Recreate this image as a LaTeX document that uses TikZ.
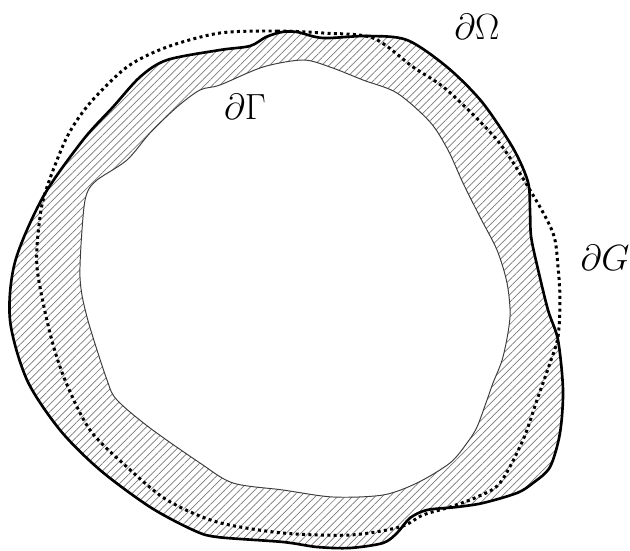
\documentclass[tikz,border=0pt]{standalone}
\usepackage{tikz}
\usepackage{xcolor}
\usetikzlibrary{patterns.meta}
\definecolor{hatchgray}{HTML}{7A7A7A}
\definecolor{linedark}{HTML}{1A1A1A}

\begin{document}
\begin{tikzpicture}[
    x=0.02cm, y=-0.02cm,
    boundary/.style={draw=black, line width=1.5pt, line join=round},
    hatched/.style={pattern={Lines[angle=45, distance=3pt, line width=0.4pt]},
                    pattern color=hatchgray},
    inner/.style={draw=linedark!85, line width=0.55pt, fill=white},
    reference/.style={draw=black, line width=1.7pt, dash pattern=on 1.7pt off 1.9pt},
    lbl/.style={font=\fontsize{21}{25}\selectfont, inner sep=0pt}
  ]
    \useasboundingbox (0,0) rectangle (630,551);

    \draw[boundary, hatched] plot[smooth cycle, tension=0.5] coordinates {
      (220,50) (250,46) (266,37) (282,32) (297,32) (323,38) (367,36) (407,40)
      (447,67) (482,102) (513,148) (528,182) (530,210) (531,236) (537,265)
      (548,310) (558,340) (563,390) (560,433) (550,467) (533,483) (517,493)
      (483,503) (457,507) (427,510) (410,518) (397,533) (383,543) (350,548)
      (317,547) (283,542) (217,537) (193,530) (150,507) (100,470) (60,430)
      (27,380) (10,320) (15,262) (43,197) (83,140) (113,107) (140,77) (167,60)};

    \draw[inner] plot[smooth cycle, tension=0.5] coordinates {
      (220,85) (263,67) (303,60) (330,67) (363,80) (397,93) (430,122) (448,150)
      (463,183) (480,217) (497,250) (507,283) (510,317) (503,357) (493,383)
      (487,400) (477,427) (467,443) (450,463) (417,483) (383,495) (333,497)
      (283,490) (233,483) (200,463) (150,428) (117,400) (107,380) (87,317)
      (80,277) (83,217) (87,193) (97,180) (127,160) (150,133) (177,107) (200,90)};

    \draw[reference] plot[smooth cycle, tension=0.5] coordinates {
      (220,33) (277,31) (323,33) (373,38) (413,67) (447,90) (497,140) (530,190)
      (553,233) (558,267) (560,300) (558,337) (550,363) (537,400) (523,440)
      (500,483) (477,497) (450,507) (423,515) (400,527) (350,535) (283,533)
      (217,522) (167,500) (127,467) (90,430) (65,380) (50,333) (37,267)
      (40,217) (47,187) (67,137) (90,103) (127,67) (167,47)};

    \node[lbl] (omega) at (477,27) {$\partial\Omega$};
    \node[lbl] (gamma) at (245,107) {$\partial\Gamma$};
    \node[lbl] (gbound) at (605,258) {$\partial G$};
  \end{tikzpicture}
\end{document}
